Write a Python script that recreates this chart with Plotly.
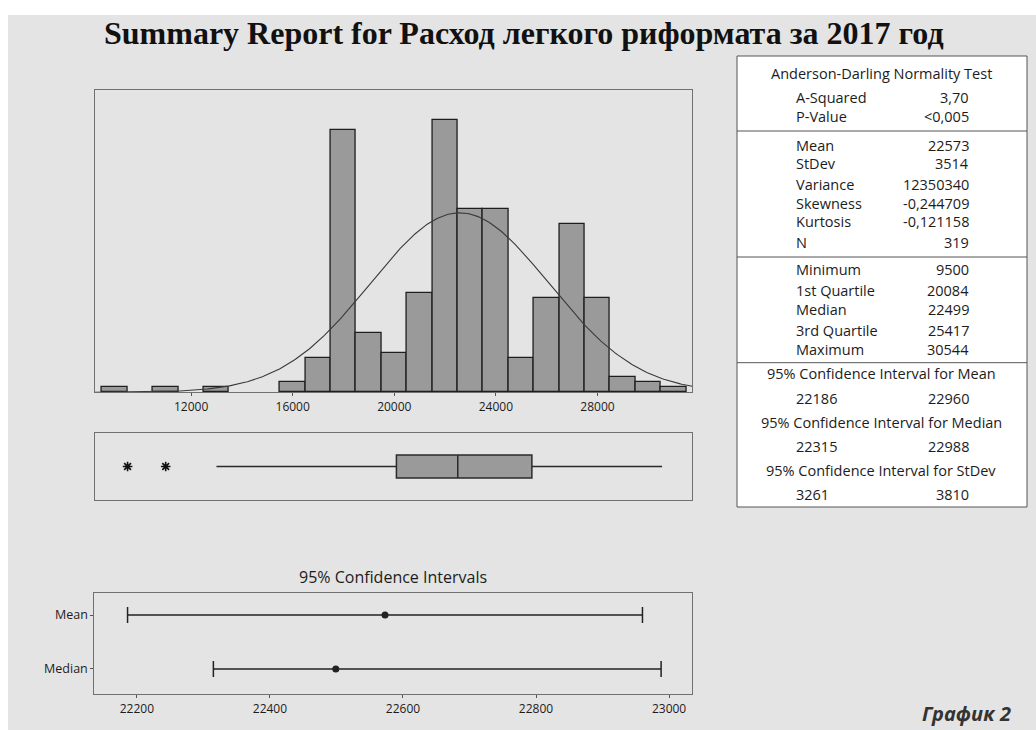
import numpy as np
import plotly.graph_objects as go

W, H = 1036, 730

# ---------------- data ----------------
title_text = "Summary Report for Расход легкого риформата за 2017 год"
bin_centers = [9000, 11000, 13000, 16000, 17000, 18000, 19000, 20000, 21000, 22000,
               23000, 24000, 25000, 26000, 27000, 28000, 29000, 30000, 31000]
bin_counts = [1, 1, 1, 2, 7, 53, 12, 8, 20, 55, 37, 37, 7, 19, 34, 19, 3, 2, 1]
bin_width = 1000
hist_ticks = [12000, 16000, 20000, 24000, 28000]

mean_val, sd_val, n_val = 22573, 3514, 319
box_q1, box_median, box_q3 = 20084, 22499, 25417
box_lower_whisker, box_upper_whisker = 13000, 30544
outliers = [9500, 11000]

ci_labels = ["Mean", "Median"]
ci_center = [22573, 22499]
ci_low = [22186, 22315]
ci_high = [22960, 22988]
ci_ticks = [22200, 22400, 22600, 22800, 23000]

ad_rows = [("A-Squared", "3,70"), ("P-Value", "<0,005")]
desc_rows = [("Mean", "22573"), ("StDev", "3514"), ("Variance", "12350340"),
             ("Skewness", "-0,244709"), ("Kurtosis", "-0,121158"), ("N", "319")]
quart_rows = [("Minimum", "9500"), ("1st Quartile", "20084"), ("Median", "22499"),
              ("3rd Quartile", "25417"), ("Maximum", "30544")]
ci_table = [("95% Confidence Interval for Mean", "22186", "22960"),
            ("95% Confidence Interval for Median", "22315", "22988"),
            ("95% Confidence Interval for StDev", "3261", "3810")]
caption = "График 2"

# ---------------- helpers ----------------
def px(x):
    return x / W

def py(y):
    return 1 - y / H

BG = "#e4e4e4"
TXT = "#1c1c1c"
SANS = "Open Sans"

HIST_X = [8205, 31733]
fig = go.Figure()

# histogram bars
fig.add_trace(go.Bar(x=bin_centers, y=bin_counts, width=bin_width,
                     marker=dict(color="#9a9a9a", line=dict(color="#1e1e1e", width=1.3)),
                     xaxis="x", yaxis="y", hoverinfo="skip", showlegend=False))

# fitted normal curve (from the reported mean / stdev)
xs = np.linspace(HIST_X[0], HIST_X[1], 400)
ys = n_val * bin_width * np.exp(-0.5 * ((xs - mean_val) / sd_val) ** 2) / (sd_val * np.sqrt(2 * np.pi))
fig.add_trace(go.Scatter(x=xs, y=ys, mode="lines", line=dict(color="#3a3a3a", width=1.1),
                         xaxis="x", yaxis="y", hoverinfo="skip", showlegend=False))

# boxplot
fig.add_trace(go.Box(y=[0], q1=[box_q1], median=[box_median], q3=[box_q3],
                     lowerfence=[box_lower_whisker], upperfence=[box_upper_whisker],
                     orientation="h", boxpoints=False, whiskerwidth=0, width=0.68,
                     fillcolor="#9a9a9a", line=dict(color="#2a2a2a", width=1.5),
                     xaxis="x2", yaxis="y2", hoverinfo="skip", showlegend=False))
fig.add_trace(go.Scatter(x=outliers, y=[0] * len(outliers), mode="markers",
                         marker=dict(symbol="asterisk-open", size=8, color="#111",
                                     line=dict(color="#111", width=1.6)),
                         xaxis="x2", yaxis="y2", hoverinfo="skip", showlegend=False))

# confidence intervals
fig.add_trace(go.Scatter(x=ci_center, y=ci_labels, mode="markers",
                         marker=dict(color="#222", size=7),
                         error_x=dict(type="data", symmetric=False,
                                      array=[h - c for h, c in zip(ci_high, ci_center)],
                                      arrayminus=[c - l for c, l in zip(ci_center, ci_low)],
                                      color="#222", thickness=1.5, width=8),
                         xaxis="x3", yaxis="y3", hoverinfo="skip", showlegend=False))

axis_common = dict(showgrid=False, zeroline=False, showline=True, mirror=True,
                   linecolor="#707070", linewidth=1)

fig.update_layout(
    width=W, height=H, margin=dict(l=0, r=0, t=0, b=0),
    paper_bgcolor="white", plot_bgcolor="white", bargap=0,
    xaxis=dict(domain=[px(94.7), px(692.3)], range=HIST_X, anchor="y",
               tickvals=hist_ticks, tickformat="d", ticks="outside", ticklen=3, tickcolor="#555",
               tickfont=dict(family=SANS, size=12, color=TXT), **axis_common),
    yaxis=dict(domain=[py(392.3), py(90)], range=[0, 61], anchor="x",
               showticklabels=False, ticks="", **axis_common),
    xaxis2=dict(domain=[px(94.7), px(692.3)], range=HIST_X, anchor="y2",
                showticklabels=False, ticks="", **axis_common),
    yaxis2=dict(domain=[py(500), py(433)], range=[-1, 1], anchor="x2",
                showticklabels=False, ticks="", **axis_common),
    xaxis3=dict(domain=[px(94.3), px(691.7)], range=[22136, 23034], anchor="y3",
                tickvals=ci_ticks, tickformat="d", ticks="outside", ticklen=3, tickcolor="#555",
                tickfont=dict(family=SANS, size=12, color=TXT), **axis_common),
    yaxis3=dict(domain=[py(694.3), py(592.7)], type="category", range=[1.469, -0.413],
                anchor="x3", ticks="outside", ticklen=3, tickcolor="#555",
                tickfont=dict(family=SANS, size=12.5, color=TXT), **axis_common),
)

shapes = []
# grey page background (white strip on top and left)
shapes.append(dict(type="rect", xref="paper", yref="paper", x0=px(8), x1=1.0, y0=0, y1=py(15),
                   fillcolor=BG, line=dict(width=0), layer="below"))
# stats table
shapes.append(dict(type="rect", xref="paper", yref="paper", x0=px(737), x1=px(1027),
                   y0=py(507), y1=py(56), fillcolor="white", line=dict(color="#555", width=1),
                   layer="below"))
for yy in [131, 257, 362.7]:
    shapes.append(dict(type="line", xref="paper", yref="paper", x0=px(737), x1=px(1027),
                       y0=py(yy), y1=py(yy), line=dict(color="#555", width=1)))
fig.update_layout(shapes=shapes)

ann = []

def text(x, y, s, size=14.5, xanchor="left", color=TXT, family=SANS, **kw):
    ann.append(dict(x=px(x), y=py(y), xref="paper", yref="paper", text=s, showarrow=False,
                    xanchor=xanchor, yanchor="middle",
                    font=dict(family=family, size=size, color=color), **kw))

# title
text(523.5, 33, "<b>" + title_text + "</b>", size=32, xanchor="center", color="#111",
     family="Liberation Serif")

# table contents
LBL_X, VAL_X = 794, 971
text(881, 73.3, "Anderson-Darling Normality Test", xanchor="center")
for (lab, val), yy in zip(ad_rows, [97.7, 116.7]):
    text(LBL_X, yy, lab)
    text(VAL_X, yy, val, xanchor="right")
for (lab, val), yy in zip(desc_rows, [145, 164, 184, 203, 221.7, 242.3]):
    text(LBL_X, yy, lab)
    text(VAL_X, yy, val, xanchor="right")
for (lab, val), yy in zip(quart_rows, [270, 290, 309.3, 330, 349]):
    text(LBL_X, yy, lab)
    text(VAL_X, yy, val, xanchor="right")
for (lab, lo, hi), (y1, y2) in zip(ci_table, [(373.3, 398.3), (422.3, 446.7), (470, 494.3)]):
    text(881, y1, lab, xanchor="center")
    text(LBL_X, y2, lo)
    text(VAL_X, y2, hi, xanchor="right")

# CI panel title
text(393, 577, "95% Confidence Intervals", size=16, xanchor="center")

# caption
text(1013, 713, "<b><i>" + caption + "</i></b>", size=20, xanchor="right", color="#333")

fig.update_layout(annotations=ann)
fig.write_html("out.html", config={"displayModeBar": False},
               post_script="document.body.style.margin='0px';")
